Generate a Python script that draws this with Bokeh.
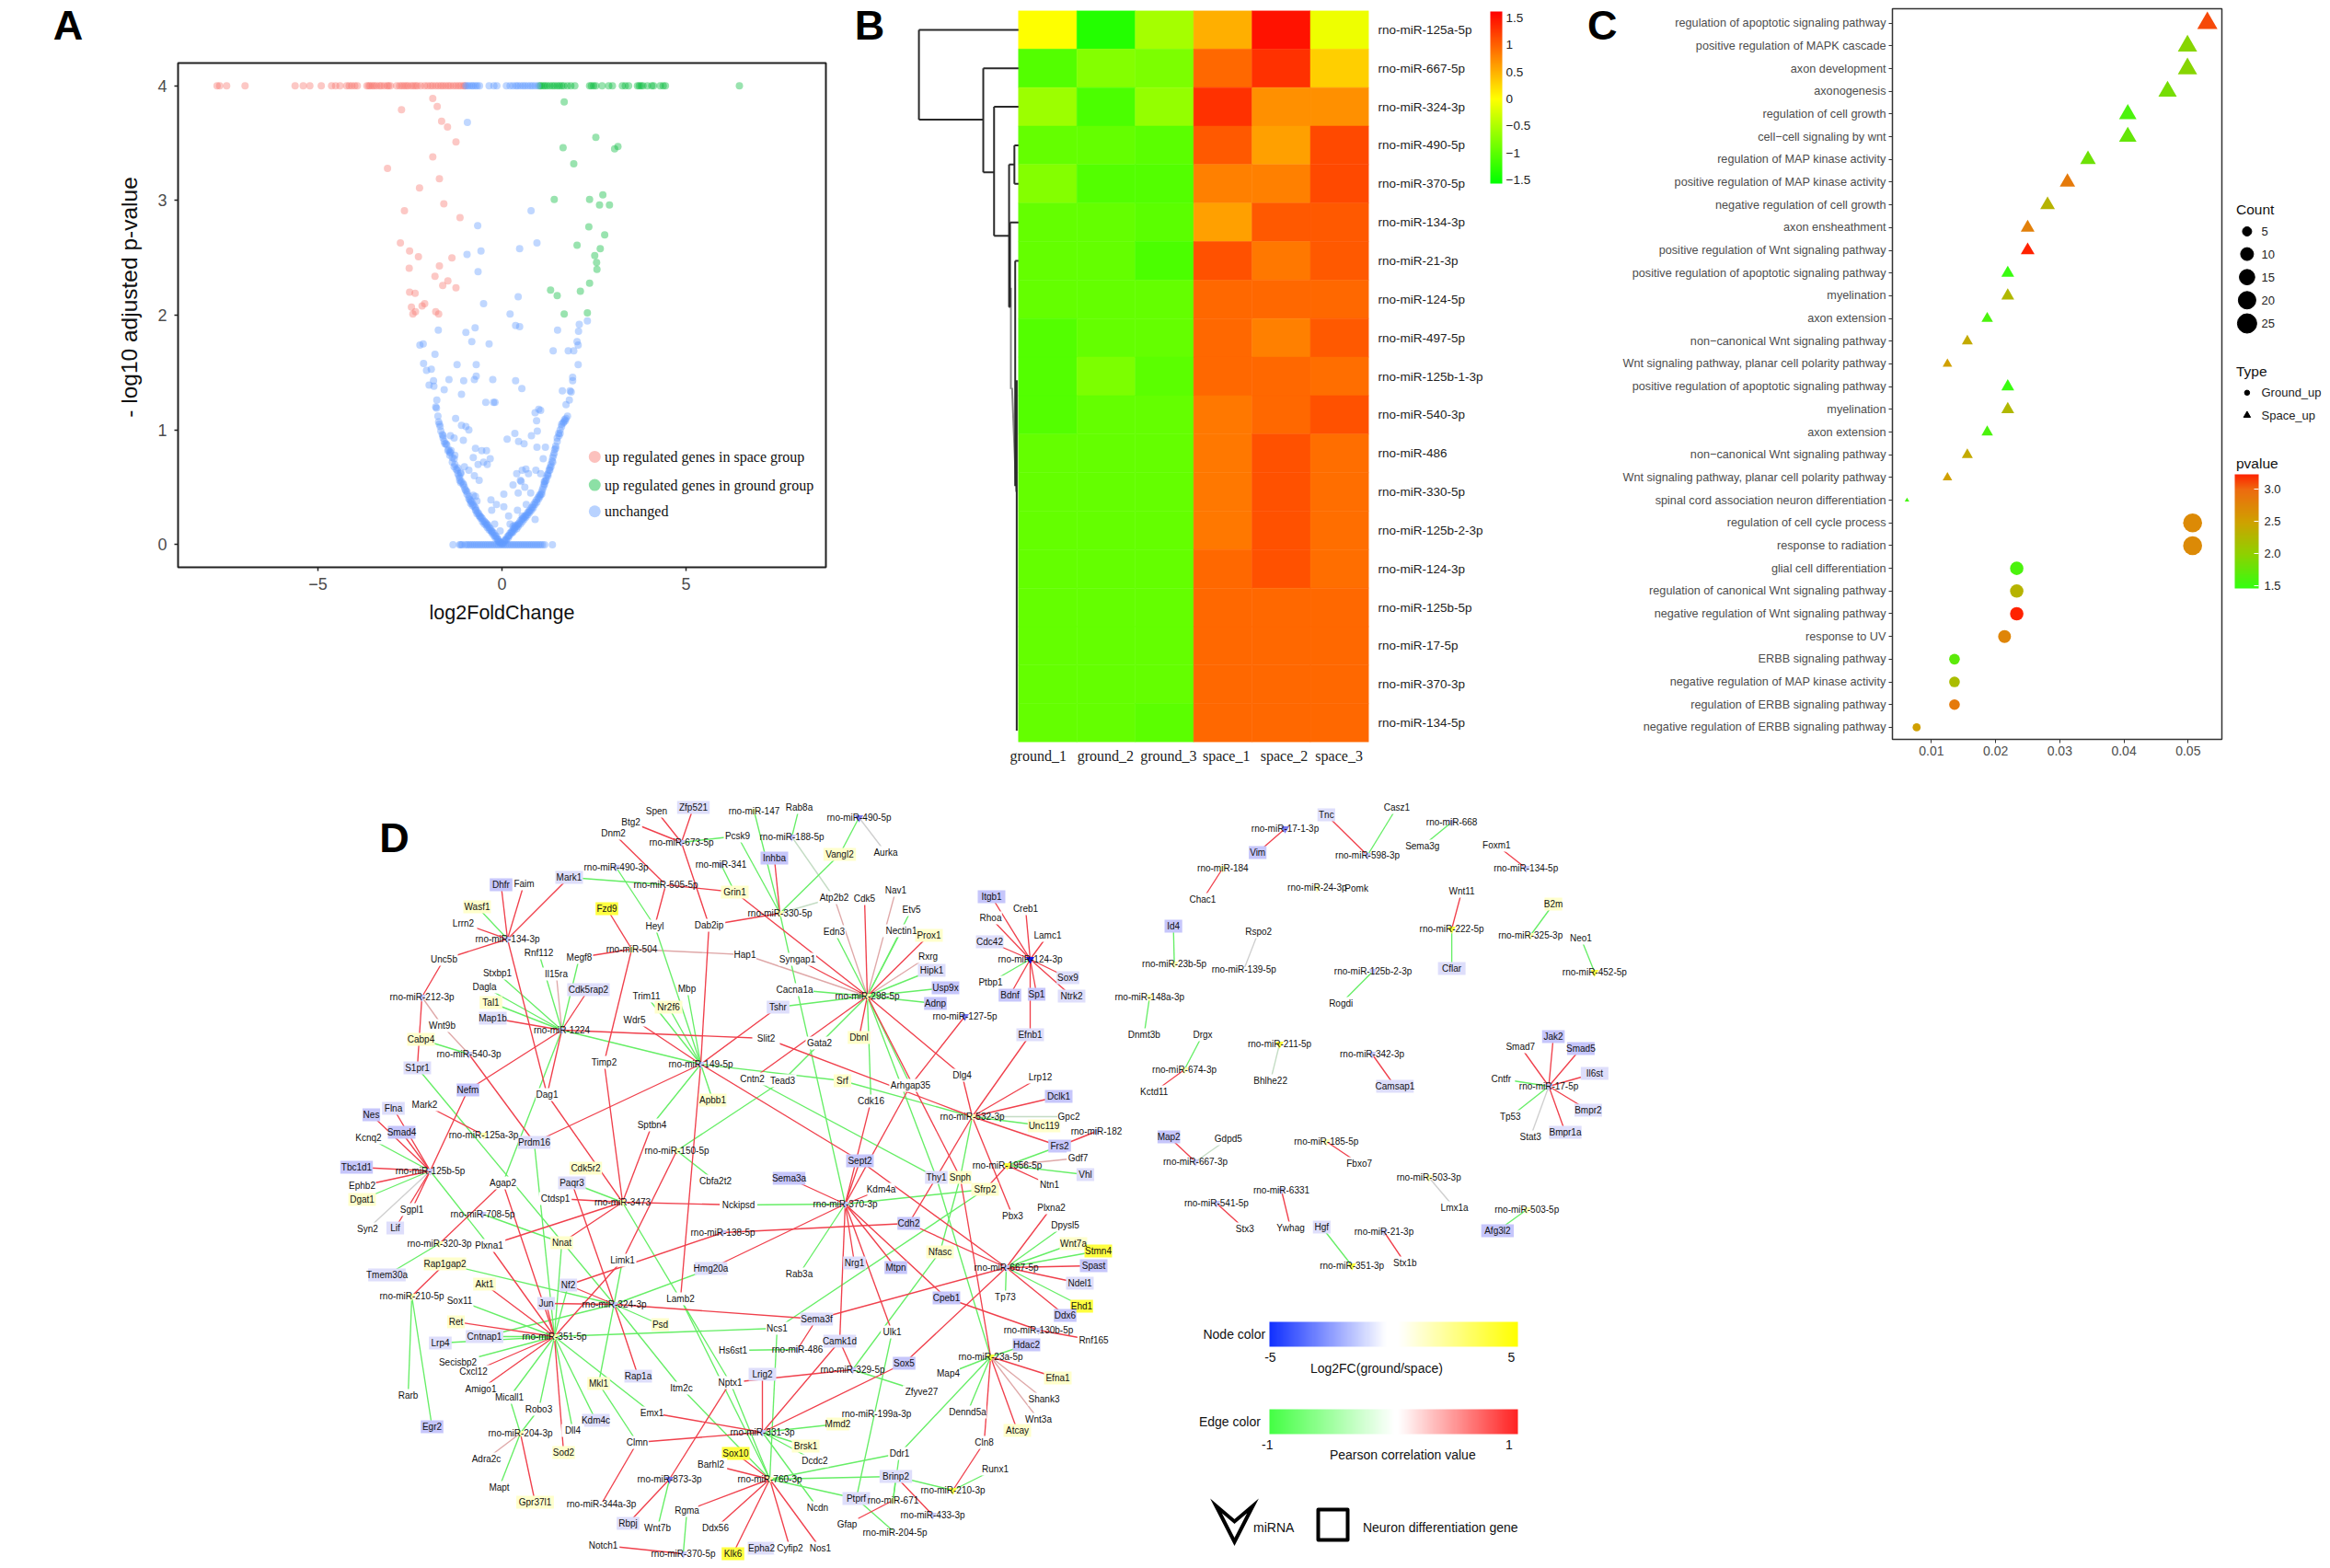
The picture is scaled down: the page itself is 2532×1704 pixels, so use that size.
from bokeh.plotting import figure, ColumnDataSource
from bokeh.models import Range1d, FixedTicker, LinearAxis, ColorBar, LinearColorMapper, PrintfTickFormatter
from bokeh.layouts import column, row
from bokeh.embed import file_html
from bokeh.resources import INLINE
from bokeh.core.properties import value
import numpy as np

SANS = "Liberation Sans"
SERIF = "Liberation Serif"

# ---------- Panel A : volcano ----------
top_red_x = [-7.74,-7.67,-7.48,-6.98,-5.62,-5.40,-5.22,-4.91,-4.63,-4.52,-4.40,-4.22,-4.15,-4.08,-4.0,-3.93,-3.67,-3.62,-3.58,-3.52,-3.47,-3.41,-3.33,-3.28,-3.2,-3.12,-3.08,-3.03,-2.86,-2.78,-2.72,-2.66,-2.6,-2.55,-2.47,-2.41,-2.35,-2.3,-2.21,-2.1,-2.02,-1.94,-1.88,-1.8,-1.73,-1.66,-1.6,-1.53,-1.46,-1.4,-1.32,-1.25,-1.18,-1.12,-1.05,-1.01]
top_blue_x = [-.98,-.93,-.88,-.82,-.78,-.72,-.67,-.61,-.35,-.22,-.14,.12,.22,.3,.38,.43,.5,.57,.63,.7,.77,.83,.9,.97]
top_green_x = [1.02,1.06,1.12,1.17,1.23,1.3,1.37,1.43,1.5,1.56,1.62,1.68,1.78,1.87,1.98,2.38,2.43,2.49,2.55,2.72,2.9,3.0,3.27,3.35,3.44,3.68,3.73,3.78,3.83,3.95,4.07,4.12,4.3,4.38,4.44,6.45]
red_x = [-1.88,-1.76,-2.73,-1.64,-1.48,-1.25,-1.88,-3.11,-1.70,-2.24,-1.58,-2.65,-1.14,-2.76,-2.51,-2.27,-1.36,-1.70,-2.52,-1.82,-1.47,-1.61,-1.25,-2.51,-2.36,-2.10,-2.17,-2.46,-2.35,-2.42,-1.80,-1.72]
red_y = [3.89,3.82,3.79,3.69,3.64,3.51,3.38,3.28,3.19,3.11,2.97,2.91,2.85,2.63,2.56,2.51,2.50,2.43,2.41,2.34,2.30,2.26,2.24,2.20,2.19,2.10,2.08,2.07,2.03,2.01,2.03,2.01]
green_x = [1.69,2.55,1.66,3.15,3.06,1.95,1.42,2.38,2.74,2.65,2.92,2.36,2.79,2.04,2.67,2.52,2.57,2.58,2.38,1.32,2.13,1.50,1.69,2.32]
green_y = [3.86,3.55,3.46,3.47,3.45,3.32,3.01,3.01,3.05,2.96,2.96,2.77,2.70,2.61,2.58,2.52,2.46,2.40,2.28,2.22,2.21,2.17,2.01,2.02]
blue_x = [-.94,.79,-.66,-.95,-.57,.48,.95,-.65,-.50,.44,.22,.37,.48,2.32,2.10,2.08,1.51,-1.73,-.98,-.73,-.82,-.35,2.04,2.07,1.39,1.80,1.95,-2.23,-2.14,-1.82,-2.13,-2.05,-1.92,-1.22,-.70,2.07,1.92,1.92,-1.86,-1.98,-1.85,-1.57,-1.44,-1.04,-.75,-.70,-.25,.37,.54,-1.10,1.64,1.85,1.88,-.44,-.23,-.19,-1.77,1.83,1.74,
 -1.8,-1.78,-1.74,-1.72,-1.68,-1.66,-1.62,-1.6,-1.57,-1.55,-1.5,-1.47,-1.42,-1.4,-1.38,-1.35,-1.3,-1.28,-1.22,-1.2,-1.17,-1.15,-1.12,-1.1,-1.05,-1.02,-.98,-.95,-.9,-.87,-.85,-.82,-.78,-.75,-.72,-.7,-.66,-.63,-.6,-.57,-.54,-.5,-.47,-.44,-.41,-.38,-.35,-.32,-.28,-.25,-.22,-.18,-.15,-.11,-.08,-.05,
 .05,.08,.11,.15,.18,.22,.25,.28,.32,.35,.38,.41,.44,.47,.5,.54,.57,.6,.63,.66,.7,.73,.76,.8,.83,.86,.9,.94,.98,1.02,1.05,1.08,1.12,1.15,1.17,1.2,1.23,1.25,1.28,1.3,1.33,1.36,1.38,1.4,1.43,1.46,1.5,1.54,1.58,1.62,1.66,1.7,1.74,1.78,
 -1.26,-1.1,-.98,-.72,-.55,-.9,-1.3,-1.05,-.78,-.62,-.4,-.3,-.15,.05,.18,.3,.42,.55,.66,.78,.9,1.05,1.15,.35,.45,.6,-.32,-.42,-.5,-.65,-.75,-.9,-1.02,-.72,.3,.44,.52,.72,.92,1.0,1.12,.8,.95,.65,.55,.4,.14,-.05,-.2,-.28,-1.4,-1.28,-1.12,-.78,-.68,.05,.22,.35,.5,.94,.96,.62,1.18,.9,1.05,
 -1.7,-1.6,-1.52,-1.45,-1.42,-1.35,-1.3,-1.25,-1.2,-1.15,-1.12,-1.05,-1.0,-.95,-.9,-.85,-.8,-.72,-.68,-.62,-.58,-.53,-.48,-.43,-.4,-.35,-.3,-.27,-.22,-.18,-.13,-.1,-.06,-.02,
 .02,.07,.12,.17,.2,.26,.3,.34,.4,.44,.5,.55,.6,.65,.7,.75,.8,.85,.9,.95,1.0,1.03,1.08,1.1,1.15,1.2,1.25,1.3,1.33,1.38,1.42,1.46,1.5,1.55,1.58,1.62,1.68,1.72]
blue_y = [3.68,2.91,2.78,2.53,2.56,2.58,2.63,2.38,2.10,2.16,2.01,1.91,1.90,1.95,1.92,1.86,1.87,1.87,1.85,1.89,1.77,1.75,1.77,1.74,1.69,1.69,1.69,1.74,1.75,1.66,1.58,1.52,1.53,1.57,1.57,1.57,1.46,1.43,1.43,1.39,1.38,1.35,1.44,1.43,1.44,1.47,1.44,1.43,1.36,1.31,1.34,1.34,1.33,1.24,1.24,1.24,1.26,1.26,1.22,
 1.2,1.19,1.12,1.07,1.03,.99,.96,.93,.9,.88,.87,.82,.81,.8,.82,.76,.75,.7,.65,.67,.6,.58,.63,.55,.53,.5,.47,.44,.42,.39,.38,.37,.35,.33,.32,.3,.28,.27,.25,.24,.23,.21,.2,.19,.18,.17,.15,.14,.12,.11,.1,.08,.07,.05,.03,.02,
 .02,.04,.05,.07,.08,.1,.11,.12,.14,.15,.16,.17,.18,.19,.21,.22,.23,.24,.25,.26,.28,.29,.3,.32,.33,.35,.37,.39,.41,.43,.44,.46,.5,.53,.55,.58,.61,.62,.65,.67,.7,.73,.76,.78,.83,.86,.93,.97,1.0,1.03,1.06,1.09,1.1,1.12,
 1.1,1.04,1.03,.84,.82,1.0,.93,.91,.76,.56,.7,.39,.35,.33,.25,.16,.3,.25,.35,.45,.22,.62,.55,.97,.9,.88,.75,.82,.72,.7,.6,.65,.68,.42,.52,.45,.55,.62,.65,1.18,.75,.95,.85,.66,.65,.62,.92,.12,.18,.3,.95,.78,.62,.43,.38,.44,.18,.17,.56,1.08,.99,.5,.85,1.15,1.17,
 1.05,.95,.88,.83,.78,.72,.68,.66,.62,.56,.54,.52,.48,.46,.4,.36,.34,.3,.27,.25,.23,.2,.18,.17,.15,.13,.12,.1,.08,.06,.05,.03,.02,.01,
 .01,.03,.04,.06,.08,.1,.11,.13,.14,.16,.18,.2,.22,.24,.26,.28,.3,.32,.35,.37,.4,.42,.44,.48,.52,.56,.6,.65,.68,.72,.8,.84,.9,.95,.97,1.05,1.07,1.08]
zero_x = [-1.33,-1.15,-1.12,-1.08,-1.0,-.95,-.9,-.85,-.8,-.75,-.7,-.65,-.6,-.55,-.5,-.45,-.4,-.35,-.3,-.25,-.2,-.15,-.1,-.05,0,.05,.1,.15,.2,.25,.3,.35,.4,.45,.5,.55,.6,.65,.7,.75,.8,.85,.9,.95,1.0,1.05,1.1,1.16,1.37]
legend_a = ["up regulated genes in space group", "up regulated genes in ground group", "unchanged"]

# ---------- Panel B : heatmap ----------
mirs = ["rno-miR-125a-5p","rno-miR-667-5p","rno-miR-324-3p","rno-miR-490-5p","rno-miR-370-5p","rno-miR-134-3p","rno-miR-21-3p","rno-miR-124-5p","rno-miR-497-5p","rno-miR-125b-1-3p","rno-miR-540-3p","rno-miR-486","rno-miR-330-5p","rno-miR-125b-2-3p","rno-miR-124-3p","rno-miR-125b-5p","rno-miR-17-5p","rno-miR-370-3p","rno-miR-134-5p"]
samples = ["ground_1","ground_2","ground_3","space_1","space_2","space_3"]
sample_tick = [.338,1.49,2.57,3.56,4.55,5.49]
heat = [[0.0,-1.35,-.55,.5,1.5,-.1],
        [-1.05,-.75,-.8,.95,1.3,.3],
        [-.6,-1.1,-.65,1.3,.7,.7],
        [-.95,-.95,-1.0,1.05,.6,1.15],
        [-.75,-1.05,-1.05,.8,.8,1.15],
        [-.95,-.95,-1.0,.6,1.05,1.05],
        [-.95,-.95,-1.1,1.1,.85,1.05],
        [-.95,-.95,-.95,.95,.95,.95],
        [-1.05,-.95,-.95,.95,.8,1.05],
        [-1.05,-.8,-1.0,.95,.95,.92],
        [-1.05,-.95,-.95,.85,.95,1.1],
        [-.95,-.95,-.95,.85,1.1,.92],
        [-.95,-.95,-.95,.85,1.1,.92],
        [-.95,-.95,-.95,.85,1.1,.92],
        [-.95,-.95,-.95,.95,1.1,.92],
        [-.95,-.95,-.95,.95,.95,.95],
        [-.95,-.95,-.95,.95,.95,.95],
        [-.95,-.95,-.95,.95,.95,.95],
        [-.95,-.95,-1.0,.95,.95,.95]]
# dendrogram segments (tree height, row position)
dx0 = [-1.705,-1.705,-1.705,-.603,-.603,-.603,-.418,-.418,-.418,-.161,-.161,-.07,-.07,-.07,-.145,-.145,-.161,-.056,-.056,-.03]
dy0 = [.5,.5,2.83,1.5,1.5,4.2,2.5,2.5,5.85,4.0,4.0,3.5,3.5,4.5,5.5,5.5,7.7,6.5,6.5,9.6]
dx1 = [-1.705,0,-.603,-.603,0,-.418,-.418,0,-.161,-.161,-.07,-.07,0,0,-.145,0,-.145,-.056,0,-.03]
dy1 = [2.83,.5,2.83,4.2,1.5,4.2,5.85,2.5,5.85,7.7,4.0,4.5,3.5,4.5,7.7,5.5,7.7,12.35,6.5,18.7]
dgrey_x0 = [-.13,-.11]
dgrey_y0 = [7.2,9.8]
dgrey_x1 = [-.13,-.04]
dgrey_y1 = [9.83,12.5]

# ---------- Panel C : dot plot ----------
terms = ["regulation of apoptotic signaling pathway","positive regulation of MAPK cascade","axon development","axonogenesis","regulation of cell growth","cell\u2212cell signaling by wnt","regulation of MAP kinase activity","positive regulation of MAP kinase activity","negative regulation of cell growth","axon ensheathment","positive regulation of Wnt signaling pathway","positive regulation of apoptotic signaling pathway","myelination","axon extension","non\u2212canonical Wnt signaling pathway","Wnt signaling pathway, planar cell polarity pathway","positive regulation of apoptotic signaling pathway","myelination","axon extension","non\u2212canonical Wnt signaling pathway","Wnt signaling pathway, planar cell polarity pathway","spinal cord association neuron differentiation","regulation of cell cycle process","response to radiation","glial cell differentiation","regulation of canonical Wnt signaling pathway","negative regulation of Wnt signaling pathway","response to UV","ERBB signaling pathway","negative regulation of MAP kinase activity","regulation of ERBB signaling pathway","negative regulation of ERBB signaling pathway"]
ratio = [.0530,.0499,.0499,.0468,.0406,.0406,.0344,.0312,.0281,.0250,.0250,.0219,.0219,.0187,.0156,.0125,.0219,.0219,.0187,.0156,.0125,.0062,.0507,.0507,.0233,.0233,.0233,.0214,.0136,.0136,.0136,.0077]
count = [17,16,16,15,13,13,11,10,9,8,8,7,7,6,5,4,7,7,6,5,4,2,24,24,11,11,11,10,7,7,7,4]
pvalue = [3.1,1.95,1.95,1.85,1.6,1.75,1.8,2.85,2.3,2.8,3.25,1.5,2.25,1.6,2.4,2.5,1.5,2.25,1.6,2.4,2.5,1.55,2.7,2.7,1.6,2.3,3.25,2.75,1.7,2.2,2.85,2.5]
is_space = [True]*22 + [False]*10

# ---------- Panel D : network ----------
mirna_nodes = [
 ("673-5p",740,915,"b"),("490-3p",669,942,"b"),("341",783,939,"b"),("505-5p",723,961,"w"),("134-3p",551,1020,"b"),("504",686,1031,"y"),
 ("212-3p",458,1083,"b"),("1224",610,1119,"b"),("540-3p",509,1145,"b"),("149-5p",761,1156,"b"),("125a-3p",525,1233,"y"),("150-5p",735,1250,"y"),
 ("125b-5p",467,1272,"b"),("708-5p",524,1319,"b"),("3473",676,1306,"y"),("320-3p",477,1351,"y"),("138-5p",785,1339,"b"),("210-5p",447,1408,"y"),
 ("324-3p",667,1417,"b"),("351-5p",602,1452,"y"),("204-3p",565,1557,"y"),("873-3p",727,1607,"B"),("344a-3p",653,1634,"w"),("370-5p",742,1688,"b"),
 ("147",819,881,"y"),("490-5p",933,888,"B"),("188-5p",860,909,"b"),("330-5p",847,992,"y"),("124-3p",1119,1042,"D"),("298-5p",942,1082,"y"),
 ("127-5p",1048,1104,"B"),("532-3p",1056,1213,"y"),("182",1191,1229,"b"),("1956-5p",1094,1266,"Y"),("370-3p",918,1308,"b"),("667-5p",1093,1377,"b"),
 ("130b-5p",1128,1445,"b"),("486",866,1466,"b"),("23a-5p",1076,1474,"Y"),("329-5p",926,1488,"b"),("199a-3p",952,1536,"w"),("331-3p",828,1556,"b"),
 ("760-3p",836,1607,"y"),("210-3p",1035,1619,"Y"),("671",970,1630,"y"),("433-3p",1013,1646,"b"),("204-5p",972,1665,"w"),
 ("668",1579,893,"b"),("17-1-3p",1397,900,"B"),("598-3p",1487,929,"b"),("184",1329,943,"y"),("134-5p",1660,943,"b"),("24-3p",1432,964,"y"),
 ("222-5p",1579,1009,"Y"),("325-3p",1665,1016,"y"),("23b-5p",1276,1047,"y"),("139-5p",1352,1053,"w"),("125b-2-3p",1493,1055,"b"),("452-5p",1735,1056,"Y"),
 ("148a-3p",1249,1083,"y"),("211-5p",1391,1134,"Y"),("342-3p",1492,1145,"b"),("674-3p",1287,1162,"y"),("17-5p",1685,1180,"b"),("185-5p",1442,1240,"y"),
 ("667-3p",1299,1262,"b"),("503-3p",1554,1279,"y"),("6331",1393,1293,"b"),("541-5p",1322,1307,"b"),("503-5p",1661,1314,"y"),("21-3p",1505,1338,"b"),("351-3p",1470,1375,"Y"),
]
gene_nodes = [
 ("Spen",713,881,"w"),("Zfp521",753,877,"b"),("Btg2",685,893,"w"),("Dnm2",666,905,"w"),("Mark1",618,953,"b"),("Dhfr",544,961,"B"),("Faim",569,960,"w"),
 ("Grin1",798,969,"y"),("Wasf1",518,985,"y"),("Fzd9",659,987,"Y"),("Heyl",711,1006,"w"),("Dab2ip",770,1005,"w"),("Lrrn2",503,1003,"w"),("Rnf112",585,1035,"w"),
 ("Megf8",629,1040,"w"),("Unc5b",482,1042,"w"),("Stxbp1",540,1057,"w"),("Il15ra",604,1058,"w"),("Dagla",526,1072,"w"),("Cdk5rap2",639,1075,"b"),("Mbp",746,1074,"w"),
 ("Trim11",702,1082,"w"),("Nr2f6",726,1094,"y"),("Tal1",533,1089,"y"),("Map1b",535,1106,"b"),("Wdr5",689,1108,"w"),("Wnt9b",480,1114,"w"),("Cabp4",457,1129,"y"),
 ("Timp2",656,1154,"w"),("S1pr1",453,1160,"b"),("Nefm",508,1184,"B"),("Dag1",594,1189,"w"),("Apbb1",774,1195,"y"),("Mark2",461,1200,"w"),("Flna",427,1204,"b"),
 ("Nes",403,1211,"B"),("Smad4",436,1230,"B"),("Kcnq2",400,1236,"w"),("Sptbn4",708,1222,"w"),("Prdm16",580,1241,"b"),("Tbc1d1",387,1268,"B"),("Cdk5r2",636,1269,"y"),
 ("Ephb2",393,1288,"w"),("Dgat1",393,1303,"y"),("Agap2",546,1285,"w"),("Paqr3",621,1285,"b"),("Ctdsp1",603,1302,"w"),("Cbfa2t2",777,1283,"w"),("Sgpl1",447,1314,"w"),
 ("Syn2",399,1335,"w"),("Lif",429,1334,"b"),("Nckipsd",802,1309,"w"),("Plxna1",531,1353,"w"),("Nnat",610,1350,"y"),("Limk1",676,1369,"w"),("Rap1gap2",483,1373,"y"),
 ("Tmem30a",420,1385,"b"),("Hmg20a",772,1378,"b"),("Akt1",526,1395,"y"),("Nf2",617,1396,"b"),("Sox11",499,1413,"w"),("Jun",593,1416,"b"),("Lamb2",739,1411,"w"),
 ("Ret",495,1436,"y"),("Psd",717,1439,"y"),("Cntnap1",526,1452,"b"),("Lrp4",478,1459,"b"),("Hs6st1",796,1467,"w"),("Secisbp2",497,1480,"w"),("Cxcl12",514,1490,"w"),
 ("Mkl1",650,1503,"y"),("Rap1a",693,1495,"b"),("Itm2c",740,1508,"w"),("Nptx1",793,1502,"w"),("Amigo1",522,1509,"w"),("Rarb",443,1516,"w"),("Micall1",553,1518,"w"),
 ("Robo3",585,1531,"w"),("Kdm4c",647,1543,"b"),("Emx1",708,1535,"w"),("Egr2",469,1550,"B"),("Dll4",622,1554,"w"),("Clmn",692,1567,"w"),("Sod2",612,1578,"y"),
 ("Adra2c",528,1585,"w"),("Sox10",799,1579,"Y"),("Barhl2",772,1591,"w"),("Mapt",542,1616,"w"),("Gpr37l1",581,1632,"y"),("Rgma",746,1641,"w"),("Rbpj",682,1655,"b"),
 ("Wnt7b",714,1660,"w"),("Ddx56",777,1660,"w"),("Notch1",655,1679,"w"),("Klk6",796,1688,"Y"),
 ("Rab8a",868,877,"w"),("Pcsk9",801,908,"w"),("Inhba",841,932,"B"),("Vangl2",912,928,"y"),("Aurka",962,926,"w"),("Atp2b2",906,975,"w"),("Cdk5",939,976,"w"),
 ("Nav1",973,967,"w"),("Etv5",990,988,"w"),("Itgb1",1077,974,"B"),("Creb1",1114,987,"w"),("Rhoa",1076,997,"w"),("Lamc1",1138,1016,"w"),("Edn3",906,1012,"w"),
 ("Nectin1",979,1011,"w"),("Prox1",1009,1016,"y"),("Cdc42",1075,1023,"b"),("Hap1",809,1037,"w"),("Syngap1",866,1042,"w"),("Rxrg",1008,1039,"w"),("Hipk1",1012,1054,"b"),
 ("Ptbp1",1076,1067,"w"),("Sox9",1160,1062,"b"),("Bdnf",1097,1081,"B"),("Sp1",1126,1080,"B"),("Ntrk2",1164,1082,"b"),("Cacna1a",863,1075,"w"),("Usp9x",1027,1073,"B"),
 ("Adnp",1016,1090,"B"),("Tshr",845,1094,"b"),("Efnb1",1119,1124,"b"),("Slit2",832,1128,"w"),("Gata2",890,1133,"w"),("Dbnl",933,1127,"y"),("Dlg4",1045,1168,"w"),
 ("Cntn2",817,1172,"w"),("Tead3",850,1174,"w"),("Srf",915,1174,"y"),("Arhgap35",989,1179,"w"),("Lrp12",1130,1170,"w"),("Dclk1",1150,1191,"B"),("Cdk16",946,1196,"w"),
 ("Gpc2",1161,1213,"w"),("Unc119",1134,1223,"y"),("Frs2",1151,1245,"B"),("Gdf7",1171,1258,"w"),("Sept2",934,1261,"B"),("Vhl",1179,1276,"b"),
 ("Thy1",1017,1279,"b"),("Snph",1043,1279,"y"),("Sema3a",857,1280,"B"),("Kdm4a",957,1292,"w"),("Sfrp2",1070,1292,"y"),("Ntn1",1140,1287,"w"),("Plxna2",1142,1312,"w"),
 ("Pbx3",1100,1321,"w"),("Cdh2",987,1329,"B"),("Dpysl5",1157,1331,"w"),("Wnt7a",1166,1351,"y"),("Stmn4",1193,1359,"Y"),("Nfasc",1021,1360,"y"),("Nrg1",928,1372,"b"),
 ("Mtpn",973,1377,"B"),("Rab3a",868,1384,"w"),("Spast",1188,1375,"B"),("Ndel1",1173,1394,"b"),("Tp73",1092,1409,"w"),("Cpeb1",1028,1410,"B"),("Ehd1",1175,1419,"Y"),
 ("Ddx6",1157,1429,"B"),("Sema3f",887,1433,"b"),("Ncs1",844,1443,"w"),("Ulk1",969,1447,"w"),("Rnf165",1188,1456,"w"),("Camk1d",912,1457,"b"),("Hdac2",1115,1461,"B"),
 ("Sox5",982,1481,"B"),("Map4",1030,1492,"w"),("Lrig2",828,1493,"b"),("Efna1",1149,1497,"y"),("Zfyve27",1001,1512,"w"),("Shank3",1134,1520,"w"),("Dennd5a",1051,1534,"w"),
 ("Wnt3a",1128,1542,"w"),("Mmd2",910,1547,"y"),("Atcay",1105,1554,"y"),("Cln8",1069,1567,"w"),("Brsk1",875,1571,"y"),("Ddr1",977,1579,"w"),("Dcdc2",885,1587,"w"),
 ("Runx1",1081,1596,"w"),("Brinp2",973,1604,"b"),("Ptprf",930,1628,"b"),("Ncdn",888,1638,"w"),("Gfap",920,1656,"w"),("Epha2",827,1682,"b"),("Cyfip2",858,1682,"w"),("Nos1",891,1682,"w"),
 ("Tnc",1442,885,"b"),("Casz1",1519,877,"w"),("Sema3g",1547,919,"w"),("Foxm1",1628,918,"w"),("Vim",1367,926,"B"),("Pomk",1475,965,"w"),("Chac1",1307,977,"w"),
 ("Wnt11",1590,968,"w"),("B2m",1690,982,"y"),("Id4",1275,1006,"B"),("Rspo2",1368,1012,"w"),("Neo1",1720,1019,"w"),("Cflar",1579,1052,"b"),("Rogdi",1458,1090,"w"),
 ("Dnmt3b",1243,1124,"w"),("Drgx",1307,1124,"w"),("Smad7",1654,1137,"w"),("Jak2",1690,1126,"B"),("Smad5",1720,1139,"B"),("Il6st",1735,1166,"b"),("Cntfr",1633,1172,"w"),
 ("Bhlhe22",1381,1174,"w"),("Camsap1",1517,1180,"b"),("Kctd11",1254,1186,"w"),("Bmpr2",1728,1206,"b"),("Tp53",1643,1213,"w"),("Stat3",1665,1235,"w"),("Bmpr1a",1703,1230,"b"),
 ("Map2",1270,1235,"B"),("Gdpd5",1335,1237,"w"),("Fbxo7",1478,1264,"w"),("Lmx1a",1582,1312,"w"),("Stx3",1353,1335,"w"),("Ywhag",1403,1334,"w"),("Hgf",1437,1333,"b"),
 ("Afg3l2",1629,1337,"B"),("Stx1b",1528,1372,"w"),
]
edges_red = {
 "673-5p":"Spen Zfp521 Btg2 Dab2ip","505-5p":"Dnm2 Grin1 Heyl","134-3p":"Dhfr Faim Mark1 Lrrn2 Unc5b Dag1","504":"Fzd9 Megf8 Timp2",
 "212-3p":"Unc5b S1pr1","1224":"Cdk5rap2 Map1b Nefm Dag1 Slit2","540-3p":"Prdm16","149-5p":"Wdr5 Dab2ip Prdm16 Lamb2 Tshr Sept2","150-5p":"Limk1",
 "125a-3p":"Mark2","125b-5p":"Nes Flna Smad4 Tbc1d1 Nefm Ephb2 Sgpl1 Lif","Agap2":"320-3p 351-5p","3473":"Ctdsp1 Nckipsd Plxna1 Nnat Timp2 Sptbn4 Dag1",
 "324-3p":"Paqr3 Nf2 Jun Rap1a Sema3f","138-5p":"Nf2 Cdh2","351-5p":"Akt1 Ret Cxcl12 Amigo1 Sod2 Plxna1 Jun Limk1","210-5p":"Rap1gap2","204-3p":"Gpr37l1",
 "331-3p":"Emx1 Clmn Lrig2 Camk1d Sox5","344a-3p":"Clmn","873-3p":"Nptx1 Rbpj","370-5p":"Notch1","760-3p":"Rgma Ddx56 Klk6 Cyfip2 Nos1 Sox10 Barhl2",
 "329-5p":"Camk1d Nptx1","370-3p":"Sema3a Kdm4a Hmg20a Nrg1 Mtpn Cpeb1 Ulk1 Camk1d Sept2 Arhgap35 Cdk16",
 "298-5p":"Cdk5 Prox1 Syngap1 Grin1 Dbnl Cntn2 Snph Dlg4","330-5p":"Inhba Dab2ip","124-3p":"Itgb1 Creb1 Rhoa Lamc1 Cdc42 Sox9 Bdnf Sp1 Ntrk2 Efnb1",
 "127-5p":"Arhgap35","532-3p":"Efnb1 Lrp12 Dclk1 Frs2 Dlg4 Slit2 Thy1 Pbx3","182":"Frs2","1956-5p":"Ntn1 Sfrp2","Cdh2":"Thy1",
 "667-5p":"Plxna2 Spast Ndel1 Ddx6 Sox5 Sema3f Cdh2 Sept2","23a-5p":"Efna1 Atcay Cln8 Snph","130b-5p":"Cpeb1 Rnf165","486":"Sema3f","210-3p":"Cln8","671":"Gfap","433-3p":"Brinp2",
 "17-1-3p":"Vim","598-3p":"Tnc","134-5p":"Foxm1","184":"Chac1","222-5p":"Wnt11","674-3p":"Kctd11","342-3p":"Camsap1","17-5p":"Jak2 Smad7 Smad5 Il6st Bmpr2 Bmpr1a",
 "667-3p":"Map2","185-5p":"Fbxo7","6331":"Ywhag","541-5p":"Stx3","21-3p":"Stx1b",
}
edges_green = {
 "673-5p":"Pcsk9","490-3p":"Heyl","505-5p":"Mark1","341":"Grin1","134-3p":"Wasf1","1224":"Rnf112 Megf8 Stxbp1 Dagla Tal1 Agap2 149-5p","540-3p":"Cabp4",
 "149-5p":"Trim11 Nr2f6 Mbp Heyl Apbb1 Sptbn4 Srf","150-5p":"Tead3 Cbfa2t2","125b-5p":"Kcnq2 Dgat1 Plxna1","708-5p":"Nnat","320-3p":"Tmem30a","3473":"Paqr3 Nptx1",
 "324-3p":"S1pr1 Rap1gap2 Hmg20a Psd Itm2c Cntnap1","351-5p":"Sox11 Cntnap1 Lrp4 Secisbp2 Micall1 Robo3 Dll4 Kdm4c Emx1 Nnat Nf2 Ncs1 Prdm16","Limk1":"Mkl1","Mkl1":"Clmn",
 "210-5p":"Rarb Egr2","204-3p":"Micall1 Robo3 Mapt","873-3p":"Wnt7b","370-5p":"Rgma","760-3p":"Ddr1 Brinp2 Ptprf Ncs1 Nptx1 Itm2c Lamb2","331-3p":"Mmd2 Brsk1 Dcdc2 Ncdn",
 "329-5p":"Zfyve27 Nfasc","Ulk1":"Ptprf","370-3p":"Sfrp2 Nckipsd Rab3a 330-5p","298-5p":"Etv5 Nectin1 Hipk1 Usp9x Adnp Cacna1a Tshr Edn3 Cdk16 Tead3 Arhgap35 Thy1",
 "330-5p":"Pcsk9 Vangl2 147","188-5p":"Rab8a","490-5p":"Vangl2","124-3p":"Ptbp1","532-3p":"Unc119 Srf Snph","1956-5p":"Frs2 Vhl","Sfrp2":"Ncs1","Snph":"Nfasc",
 "Cntn2":"Thy1","667-5p":"Dpysl5 Wnt7a Stmn4 Tp73 Ehd1","23a-5p":"Hdac2 Dennd5a Map4 Ddr1 Thy1","486":"Hs6st1","210-3p":"Runx1 Brinp2","671":"Ddr1 Brinp2","204-5p":"Ptprf",
 "598-3p":"Casz1","668":"Sema3g","222-5p":"Cflar","325-3p":"B2m","452-5p":"Neo1","23b-5p":"Id4","125b-2-3p":"Rogdi","148a-3p":"Dnmt3b","674-3p":"Drgx","17-5p":"Cntfr Tp53","503-5p":"Afg3l2","351-3p":"Hgf",
}
edges_pale = {"504":"Hap1","212-3p":"Wnt9b","540-3p":"Wnt9b","1224":"Il15ra","204-3p":"Adra2c","298-5p":"Atp2b2 Nav1 Rxrg Hap1","1956-5p":"Gdf7","23a-5p":"Shank3 Wnt3a"}
edges_grey = {"125b-5p":"Syn2","490-5p":"Aurka","139-5p":"Rspo2","17-5p":"Stat3","503-3p":"Lmx1a"}
edges_palegreen = {"188-5p":"Atp2b2","330-5p":"Atp2b2","532-3p":"Gpc2","211-5p":"Bhlhe22","667-3p":"Gdpd5"}


def grad(stops, n=256):
    pos = [s[0] for s in stops]
    rgb = np.array([[int(s[1][i:i+2], 16) for i in (1, 3, 5)] for s in stops], float)
    t = np.linspace(0, 1, n)
    out = np.stack([np.interp(t, pos, rgb[:, k]) for k in range(3)], axis=1).round().astype(int)
    return ["#%02x%02x%02x" % tuple(int(v) for v in c) for c in out]


def bare(w, h, xr, yr, **kw):
    args = dict(width=w, height=h, x_range=Range1d(*xr), y_range=Range1d(*yr), output_backend="svg",
                toolbar_location=None, outline_line_color=None, min_border_left=0, min_border_right=0,
                min_border_top=0, min_border_bottom=0, x_axis_location=None, y_axis_location=None, frame_align=False)
    args.update(kw)
    p = figure(**args)
    p.grid.visible = False
    return p


def letter(p, s, x, y):
    p.text([x], [y], text=[s], text_font=value(SANS), text_font_style="bold", text_font_size="45px",
           text_align="center", text_baseline="middle", text_color="black")


# ---------- A ----------
# left strip with the panel letter and the y title, on page coordinates
pal = bare(150, 860, (8, 158), (868, 8))
letter(pal, "A", 73.4, 26.6)
pal.text([139.7], [322.5], text=["- log10 adjusted p-value"], angle=[np.pi / 2], text_font=value(SANS), text_font_size="24.5px",
         text_color="#111111", text_align="center", text_baseline="middle")

pa = figure(width=772, height=860, x_range=Range1d(-8.80, 8.80), y_range=Range1d(-.197, 4.198), output_backend="svg",
            toolbar_location=None, min_border_left=35, min_border_right=33, min_border_top=60, min_border_bottom=252,
            outline_line_color="#222222", outline_line_width=2, frame_align=False)
pa.grid.visible = False
alpha = .4
pa.scatter(top_red_x + red_x, [4]*len(top_red_x) + red_y, size=8, color="#F8766D", alpha=alpha, line_color=None)
pa.scatter(top_green_x + green_x, [4]*len(top_green_x) + green_y, size=8, color="#00BA38", alpha=alpha, line_color=None)
pa.scatter(top_blue_x + blue_x + zero_x, [4]*len(top_blue_x) + blue_y + [0]*len(zero_x), size=8, color="#619CFF", alpha=alpha, line_color=None)
pa.xaxis.ticker = FixedTicker(ticks=[-5, 0, 5])
pa.yaxis.ticker = FixedTicker(ticks=[0, 1, 2, 3, 4])
for ax in (pa.xaxis[0], pa.yaxis[0]):
    ax.axis_line_color = None
    ax.major_tick_in = 0
    ax.major_tick_out = 4
    ax.major_tick_line_color = "#222222"
    ax.major_tick_line_width = 1.5
    ax.minor_tick_line_color = None
    ax.major_label_text_font = SANS
    ax.major_label_text_font_size = "18px"
    ax.major_label_text_color = "#4d4d4d"
    ax.axis_label_text_font = SANS
    ax.axis_label_text_font_style = "normal"
    ax.axis_label_text_color = "#111111"
    ax.axis_label_text_font_size = "21.5px"
pa.xaxis.axis_label = "log2FoldChange"
pa.xaxis.major_label_standoff = 7
pa.xaxis.axis_label_standoff = 10
pa.yaxis.major_label_standoff = 8
leg_y = [.766, .52, .29]
pa.scatter([2.52]*3, leg_y, size=13, color=["#F8766D", "#00BA38", "#619CFF"], alpha=.45, line_color=None)
pa.text([2.79]*3, leg_y, text=legend_a, text_font=value(SERIF), text_font_size="16px", text_baseline="middle", text_color="#111111")

# ---------- B ----------
cmap_b = LinearColorMapper(palette=grad([(0, "#00ff00"), (1.57/3.19, "#ffff00"), (1, "#ff0000")]), low=-1.57, high=1.62)
cell_x, cell_y, cell_v = [], [], []
for i, r in enumerate(heat):
    for j, v in enumerate(r):
        cell_x.append(j + .5); cell_y.append(i + .5); cell_v.append(v)
pb = figure(width=790, height=860, x_range=Range1d(-2.778, 6), y_range=Range1d(19, 0), output_backend="svg",
            toolbar_location=None, outline_line_color=None, min_border_left=0, min_border_right=233, min_border_top=3,
            min_border_bottom=62, y_axis_location=None, frame_align=False)
pb.grid.visible = False
src_b = ColumnDataSource(dict(x=cell_x, y=cell_y, v=cell_v))
tr = {"field": "v", "transform": cmap_b}
pb.rect("x", "y", width=1, height=1, source=src_b, fill_color=tr, line_color=tr, line_width=.5)
pb.segment(dgrey_x0, dgrey_y0, dgrey_x1, dgrey_y1, line_color="#888888", line_width=2)
pb.segment(dx0, dy0, dx1, dy1, line_color="#2a2a2a", line_width=2)
pb.xaxis.ticker = FixedTicker(ticks=sample_tick)
pb.xaxis.major_label_overrides = dict(zip(sample_tick, samples))
pb.xaxis.axis_line_color = None
pb.xaxis.major_tick_line_color = None
pb.xaxis.major_tick_out = 0
pb.xaxis.major_tick_in = 0
pb.xaxis.minor_tick_line_color = None
pb.xaxis.major_label_text_font = SERIF
pb.xaxis.major_label_text_font_size = "16px"
pb.xaxis.major_label_text_color = "#222222"
pb.xaxis.major_label_standoff = 6
row_tick = [i + .5 for i in range(19)]
ax_r = LinearAxis(ticker=FixedTicker(ticks=row_tick), major_label_overrides=dict(zip(row_tick, mirs)),
                  axis_line_color=None, major_tick_line_color=None, minor_tick_line_color=None, major_tick_out=0, major_tick_in=0,
                  major_label_text_font=SANS, major_label_text_font_size="13.5px", major_label_text_color="#222222",
                  major_label_standoff=10)
pb.add_layout(ax_r, "right")
cb_b = ColorBar(color_mapper=cmap_b, ticker=FixedTicker(ticks=[-1.5, -1, -.5, 0, .5, 1, 1.5]), location=(689, 607), width=13, height=187,
                padding=0, margin=0, bar_line_color=None, border_line_color=None, background_fill_alpha=0,
                major_tick_line_color=None, minor_tick_line_color=None, major_label_text_font=SANS,
                major_label_text_font_size="13.5px", major_label_text_color="#222222", label_standoff=4)
pb.add_layout(cb_b)
letter(pb, "B", -2.55, .39)

# ---------- C ----------
pcl = bare(37, 860, (1720, 1757), (868, 8))
letter(pcl, "C", 1740.7, 27.2)
cmap_c = LinearColorMapper(palette=grad([(0, "#33ff11"), (.305, "#90d000"), (.588, "#d0a000"), (.87, "#ee6a10"), (1, "#ff2200")]), low=1.46, high=3.23)
rows_c = list(range(1, 33))
circle_scale = ([1, 5, 10, 15, 20, 25], [5, 10, 14, 16.7, 19, 21])
tri_scale = ([2, 4, 5, 6, 7, 8, 9, 10, 11, 13, 15, 16, 17], [5, 10.4, 12, 12.5, 14, 15, 16, 16.7, 17, 19, 20, 21, 22])
sz = [float(np.interp(c, *(tri_scale if s else circle_scale))) for c, s in zip(count, is_space)]
mk = ["triangle" if s else "circle" for s in is_space]
src_c = ColumnDataSource(dict(x=ratio, y=rows_c, pv=pvalue, size=sz, marker=mk))
pc = figure(width=663, height=860, x_range=Range1d(.00393, .05526), y_range=Range1d(32.53, .364), output_backend="svg",
            toolbar_location=None, min_border_left=299, min_border_right=6, min_border_top=1, min_border_bottom=65,
            outline_line_color="#333333", outline_line_width=1.5, frame_align=False)
pc.grid.visible = False
pc.scatter("x", "y", size="size", marker="marker", source=src_c, fill_color={"field": "pv", "transform": cmap_c}, line_color=None)
pc.xaxis.ticker = FixedTicker(ticks=[.01, .02, .03, .04, .05])
pc.xaxis.major_label_overrides = {.01: "0.01", .02: "0.02", .03: "0.03", .04: "0.04", .05: "0.05"}
pc.yaxis.ticker = FixedTicker(ticks=rows_c)
pc.yaxis.major_label_overrides = dict(zip(rows_c, terms))
for ax in (pc.xaxis[0], pc.yaxis[0]):
    ax.axis_line_color = None
    ax.major_tick_in = 0
    ax.major_tick_out = 4
    ax.major_tick_line_color = "#333333"
    ax.minor_tick_line_color = None
    ax.major_label_text_font = SANS
    ax.major_label_text_color = "#4d4d4d"
    ax.major_label_text_font_size = "12.7px"
    ax.major_label_standoff = 3
pc.xaxis.major_label_text_font_size = "14px"

# legend for C, placed on page coordinates
pl = bare(108, 860, (2420, 2528), (868, 8))
count_keys = [5, 10, 15, 20, 25]
count_y = [251, 275.6, 300.7, 325.8, 351]
pl.scatter([2441.4]*5, count_y, size=[float(np.interp(c, *circle_scale)) for c in count_keys], color="black")
pl.text([2457]*5, count_y, text=[str(c) for c in count_keys], text_font=value(SANS), text_font_size="13px", text_baseline="middle", text_color="#222222")
pl.text([2429.5]*3, [226.5, 402.7, 503], text=["Count", "Type", "pvalue"], text_font=value(SANS), text_font_size="15.5px", text_baseline="middle", text_color="#111111")
pl.scatter([2441.4], [426.3], size=5.5, marker="circle", color="black")
pl.scatter([2441.4], [450.8], size=7.5, marker="triangle", color="black")
pl.text([2457, 2457], [426.3, 450.8], text=["Ground_up", "Space_up"], text_font=value(SANS), text_font_size="13px", text_baseline="middle", text_color="#222222")
cb_c = ColorBar(color_mapper=cmap_c, ticker=FixedTicker(ticks=[1.5, 2, 2.5, 3]), formatter=PrintfTickFormatter(format="%.1f"), location=(8, 229), width=26, height=124,
                padding=0, margin=0, bar_line_color=None, border_line_color=None, background_fill_alpha=0,
                major_tick_line_color="white", major_tick_in=5, major_tick_out=0, minor_tick_line_color=None,
                major_label_text_font=SANS, major_label_text_font_size="13px", major_label_text_color="#222222", label_standoff=6)
pl.add_layout(cb_c)

# ---------- D ----------
pd_ = bare(2520, 828, (8, 2528), (1696, 868))
def xfix(x):
    return x if x < 1200 else 1200 + (x - 1200) * .995
pos = {n[0]: (xfix(n[1]), n[2]) for n in mirna_nodes}
pos.update({n[0]: (xfix(n[1]), n[2]) for n in gene_nodes})
def draw_edges(d, color, width=1.35):
    x0, y0, x1, y1 = [], [], [], []
    for hub, targets in d.items():
        for t in targets.split():
            x0.append(pos[hub][0]); y0.append(pos[hub][1]); x1.append(pos[t][0]); y1.append(pos[t][1])
    pd_.segment(x0, y0, x1, y1, line_color=color, line_width=width)
draw_edges(edges_palegreen, "#c4dcc4")
draw_edges(edges_grey, "#cfcfcf")
draw_edges(edges_pale, "#dfa8a8")
draw_edges(edges_green, "#66ee66")
draw_edges(edges_red, "#f0404c")
node_fill = {"w": "#ffffff", "b": "#dedefb", "B": "#c6c6fb", "y": "#ffffcc", "Y": "#ffff40", "D": "#1515e0"}
mark_fill = {"w": "#ffffff", "b": "#c8c8f8", "B": "#7a7aee", "y": "#ffffb0", "Y": "#ffff40", "D": "#1515e0"}
mx = [xfix(n[1]) for n in mirna_nodes]; my = [n[2] for n in mirna_nodes]
pd_.scatter(mx, my, size=9, marker="inverted_triangle", fill_color=[mark_fill[n[3]] for n in mirna_nodes], line_color=None)
gx = [xfix(n[1]) for n in gene_nodes]; gy = [n[2] for n in gene_nodes]
gw = [len(n[0]) * 5.4 + 3 for n in gene_nodes]
pd_.rect(gx, gy, width=gw, height=14, fill_color=[node_fill[n[3]] for n in gene_nodes], line_color=None)
pd_.text(gx + mx, gy + my, text=[n[0] for n in gene_nodes] + ["rno-miR-" + n[0] for n in mirna_nodes],
         text_font=value(SANS), text_font_size="10px", text_align="center", text_baseline="middle", text_color="#111111")
letter(pd_, "D", 428, 910)
# colour keys
cm_node = LinearColorMapper(palette=grad([(0, "#1030ff"), (.47, "#ffffff"), (.52, "#ffffff"), (1, "#ffff00")]), low=-5, high=5)
cm_edge = LinearColorMapper(palette=grad([(0, "#44ff44"), (.5, "#ffffff"), (.52, "#ffffff"), (1, "#ff2222")]), low=-1, high=1)
for cm, loc in ((cm_node, (1371, 233)), (cm_edge, (1371, 138))):
    cb = ColorBar(color_mapper=cm, ticker=FixedTicker(ticks=[]), orientation="horizontal", location=loc, width=270, height=27,
                  padding=0, margin=0, bar_line_color=None, border_line_color=None, background_fill_alpha=0,
                  major_tick_line_color=None, minor_tick_line_color=None)
    pd_.add_layout(cb)
leg_txt = ["-5", "5", "Log2FC(ground/space)", "-1", "1", "Pearson correlation value", "Node color", "Edge color", "miRNA", "Neuron differentiation gene"]
leg_tx = [1379.9, 1642, 1495.4, 1376.8, 1639.3, 1523.8, 1340.8, 1335.9, 1383.7, 1564.7]
leg_ty = [1474, 1474, 1486, 1569, 1569, 1580, 1449, 1544, 1659, 1659]
pd_.text(leg_tx, leg_ty, text=leg_txt, text_font=value(SANS), text_font_size="14px", text_align="center", text_baseline="middle", text_color="#111111")
pd_.patch([1321, 1341, 1361, 1341], [1636, 1675, 1636, 1653], fill_color="white", line_color="black", line_width=4, line_join="miter")
pd_.quad(left=[1432], right=[1464], top=[1640], bottom=[1673], fill_color="white", line_color="black", line_width=4, line_join="round")

layout = column(row(pal, pa, pb, pcl, pc, pl, spacing=0), pd_, spacing=0, margin=(8, 0, 0, 8))
open("out.html", "w").write(file_html(layout, INLINE))
